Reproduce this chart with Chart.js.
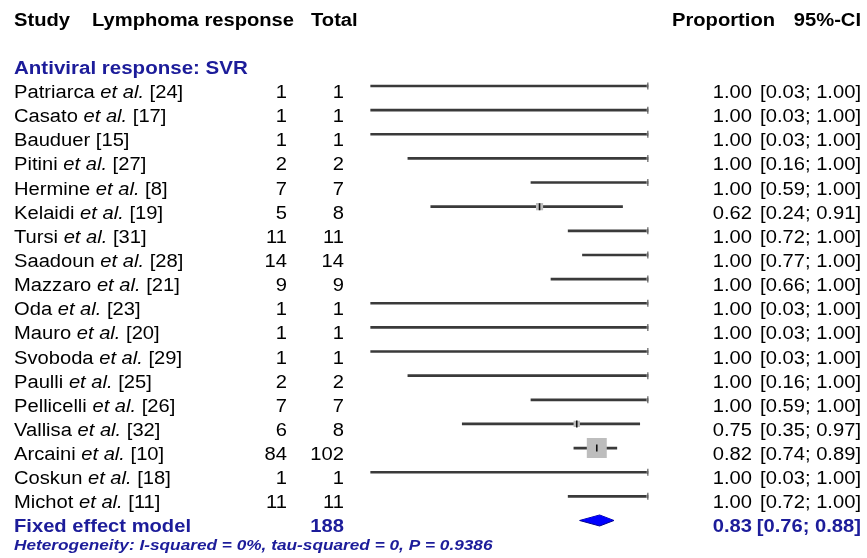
<!DOCTYPE html>
<html>
<head>
<meta charset="utf-8">
<script src="https://cdn.jsdelivr.net/npm/chart.js@4.4.1/dist/chart.umd.min.js"></script>
<style>
  html, body { margin: 0; padding: 0; background: #ffffff; }
  #wrap { width: 867px; height: 558px; }
</style>
</head>
<body>
<div id="wrap"><canvas id="c" width="867" height="558"></canvas></div>
<script>
// ---- data ----
const studies = ['Patriarca', 'Casato', 'Bauduer', 'Pitini', 'Hermine', 'Kelaidi', 'Tursi', 'Saadoun', 'Mazzaro',
                 'Oda', 'Mauro', 'Svoboda', 'Paulli', 'Pellicelli', 'Vallisa', 'Arcaini', 'Coskun', 'Michot'];
const etAl = [true, true, false, true, true, true, true, true, true, true, true, true, true, true, true, true, true, true];
const refs = [24, 17, 15, 27, 8, 19, 31, 28, 21, 23, 20, 29, 25, 26, 32, 10, 18, 11];
const events = [1, 1, 1, 2, 7, 5, 11, 14, 9, 1, 1, 1, 2, 7, 6, 84, 1, 11];
const totals = [1, 1, 1, 2, 7, 8, 11, 14, 9, 1, 1, 1, 2, 7, 8, 102, 1, 11];
const proportions = [1.00, 1.00, 1.00, 1.00, 1.00, 0.62, 1.00, 1.00, 1.00, 1.00, 1.00, 1.00, 1.00, 1.00, 0.75, 0.82, 1.00, 1.00];
const ciLower = [0.03, 0.03, 0.03, 0.16, 0.59, 0.24, 0.72, 0.77, 0.66, 0.03, 0.03, 0.03, 0.16, 0.59, 0.35, 0.74, 0.03, 0.72];
const ciUpper = [1.00, 1.00, 1.00, 1.00, 1.00, 0.91, 1.00, 1.00, 1.00, 1.00, 1.00, 1.00, 1.00, 1.00, 0.97, 0.89, 1.00, 1.00];
const weightsPct = [1.5, 1.5, 1.5, 1.7, 1.9, 7.7, 2.0, 2.0, 1.9, 1.5, 1.5, 1.5, 1.7, 1.9, 6.1, 60.4, 1.5, 2.0];
const pooledLabel = 'Fixed effect model';
const pooledTotal = 188;
const pooledEst = 0.83;
const pooledLower = 0.76;
const pooledUpper = 0.88;
const subgroupLabel = 'Antiviral response: SVR';
const heterogeneityText = 'Heterogeneity: I-squared = 0%, tau-squared = 0, P = 0.9386';
const headerLeft = ['Study', 'Lymphoma response', 'Total'];
const headerRight = ['Proportion', '95%-CI'];

// ---- layout / style ----
const BLUE = '#1c1c9a';
const SX = 1.12;               // horizontal text stretch seen in the reference
const FONT = 'Liberation Sans, Arial, Helvetica, sans-serif';
const pooledRow = studies.length;       // row index of the pooled estimate
const hetRow = studies.length + 1;
const diamondHalf = 0.228;              // half height of the diamond in row units

const rowIdx = studies.map((_, i) => i);
const ciData = rowIdx.map(i => ({ x: [ciLower[i], ciUpper[i]], y: i }));
const sqData = rowIdx.map(i => ({ x: proportions[i], y: i }));
const sqRadius = weightsPct.map(w => 2.57 * Math.sqrt(w) / Math.SQRT2);
const diamondTop = [
  { x: pooledLower, y: pooledRow }, { x: pooledEst, y: pooledRow - diamondHalf }, { x: pooledUpper, y: pooledRow }
];
const diamondBottom = [
  { x: pooledLower, y: pooledRow }, { x: pooledEst, y: pooledRow + diamondHalf }, { x: pooledUpper, y: pooledRow }
];

function drawText(ctx, str, x, y, font, color, align, sx) {
  const s = sx || SX;
  ctx.save();
  ctx.font = font;
  ctx.fillStyle = color;
  ctx.textBaseline = 'alphabetic';
  ctx.textAlign = 'left';
  const w = ctx.measureText(str).width * s;
  const x0 = align === 'right' ? x - w : x;
  ctx.translate(x0, y);
  ctx.scale(s, 1);
  ctx.fillText(str, 0, 0);
  ctx.restore();
  return w;
}

const fmt = v => v.toFixed(2);

const textPlugin = {
  id: 'forestText',
  afterDraw(chart) {
    const ctx = chart.ctx;
    const ys = chart.scales.y;
    const reg = '18px ' + FONT;
    const ital = 'italic 18px ' + FONT;
    const bold = 'bold 18px ' + FONT;
    const yRow = r => ys.getPixelForValue(r) + 12;

    // header
    const yh = ys.getPixelForValue(-3) + 12;
    drawText(ctx, headerLeft[0], 14, yh, bold, '#000', 'left');
    drawText(ctx, headerLeft[1], 92, yh, bold, '#000', 'left');
    drawText(ctx, headerLeft[2], 311, yh, bold, '#000', 'left');
    drawText(ctx, headerRight[0], 672, yh, bold, '#000', 'left');
    drawText(ctx, headerRight[1], 861, yh, bold, '#000', 'right');

    // subgroup title
    drawText(ctx, subgroupLabel, 14, yRow(-1), bold, BLUE, 'left', 1.14);

    // study rows
    studies.forEach((name, i) => {
      const y = yRow(i);
      let x = 14;
      x += drawText(ctx, name, x, y, reg, '#000', 'left');
      if (etAl[i]) x += drawText(ctx, ' et al.', x, y, ital, '#000', 'left');
      drawText(ctx, ' [' + refs[i] + ']', x, y, reg, '#000', 'left');
      drawText(ctx, String(events[i]), 287, y, reg, '#000', 'right');
      drawText(ctx, String(totals[i]), 344, y, reg, '#000', 'right');
      drawText(ctx, fmt(proportions[i]), 752, y, reg, '#000', 'right');
      drawText(ctx, '[' + fmt(ciLower[i]) + '; ' + fmt(ciUpper[i]) + ']', 861, y, reg, '#000', 'right');
    });

    // pooled row
    const yp = yRow(pooledRow);
    drawText(ctx, pooledLabel, 14, yp, bold, BLUE, 'left');
    drawText(ctx, String(pooledTotal), 344, yp, bold, BLUE, 'right');
    drawText(ctx, fmt(pooledEst), 752, yp, bold, BLUE, 'right');
    drawText(ctx, '[' + fmt(pooledLower) + '; ' + fmt(pooledUpper) + ']', 861, yp, bold, BLUE, 'right');

    // heterogeneity
    drawText(ctx, heterogeneityText, 14, ys.getPixelForValue(hetRow) + 5.5, 'italic bold 15.4px ' + FONT, BLUE, 'left');
  }
};

new Chart(document.getElementById('c'), {
  type: 'bar',
  data: {
    datasets: [
      {
        type: 'bar',
        indexAxis: 'y',
        data: ciData,
        backgroundColor: '#3a3a3a',
        borderWidth: 0,
        barThickness: 2,
        order: 4
      },
      {
        type: 'scatter',
        data: sqData,
        pointStyle: 'rect',
        pointRadius: sqRadius,
        backgroundColor: '#bdbdbd',
        borderColor: '#bdbdbd',
        borderWidth: 0,
        order: 3
      },
      {
        type: 'scatter',
        data: sqData,
        pointStyle: 'line',
        rotation: 90,
        pointRadius: 3.5,
        borderColor: '#111',
        borderWidth: 1.6,
        order: 2
      },
      {
        type: 'line',
        data: diamondTop,
        borderColor: '#00008b',
        borderWidth: 1,
        pointRadius: 0,
        tension: 0,
        fill: false,
        order: 1
      },
      {
        type: 'line',
        data: diamondBottom,
        borderColor: '#00008b',
        borderWidth: 1,
        pointRadius: 0,
        tension: 0,
        fill: '-1',
        backgroundColor: '#0000ff',
        order: 0
      }
    ]
  },
  options: {
    responsive: false,
    animation: false,
    events: [],
    layout: { autoPadding: false, padding: { left: 362.1, right: 218.7, top: 1.5, bottom: 1.3 } },
    plugins: { legend: { display: false }, tooltip: { enabled: false } },
    scales: {
      x: { type: 'linear', min: 0, max: 1, display: false, offset: false },
      y: { type: 'linear', min: -3.5, max: 19.5, reverse: true, display: false, offset: false }
    }
  },
  plugins: [textPlugin]
});
</script>
</body>
</html>
